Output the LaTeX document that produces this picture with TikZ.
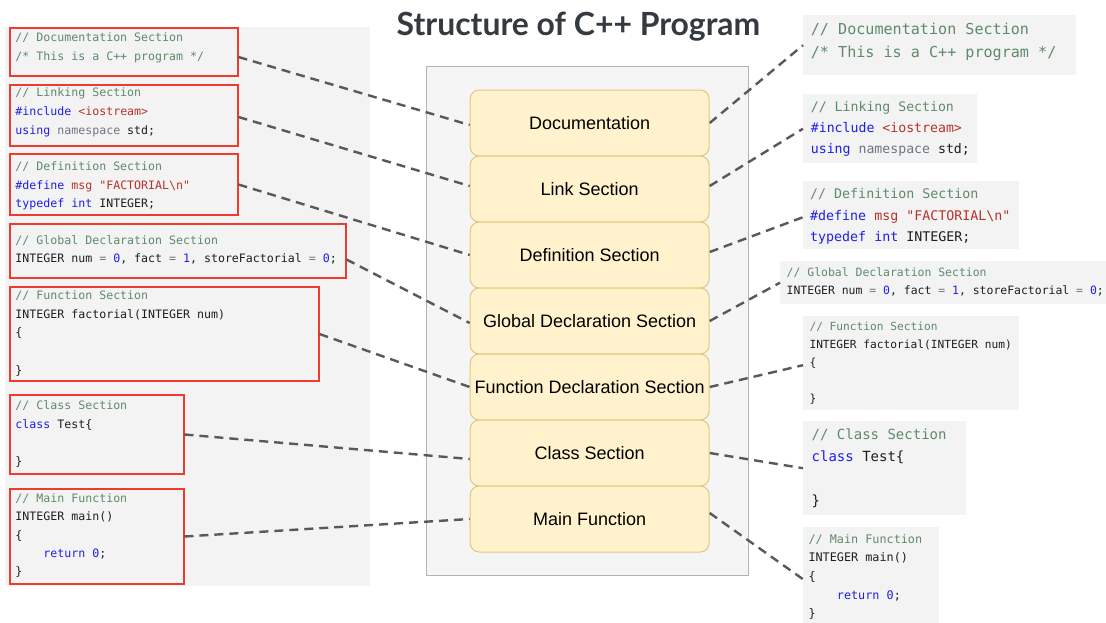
\documentclass[tikz,border=0pt]{standalone}
\usepackage{fontspec}
\setmainfont{Liberation Sans}
\newfontfamily\codefont{DejaVu Sans Mono}
\newfontfamily\titlefont{Lato}
\usetikzlibrary{calc}

\definecolor{panelgray}{HTML}{F3F3F3}
\definecolor{framered}{HTML}{EE3B2F}
\definecolor{stackfill}{HTML}{F5F5F5}
\definecolor{stackline}{HTML}{B3B3B3}
\definecolor{secfill}{HTML}{FFF2CC}
\definecolor{secline}{HTML}{E2C87C}
\definecolor{linkgray}{HTML}{595959}
\definecolor{comgreen}{HTML}{5F8A6B}
\definecolor{kwblue}{HTML}{1F1FE6}
\definecolor{strred}{HTML}{B8322A}
\definecolor{nsgray}{HTML}{6E7681}
\definecolor{codeblack}{HTML}{1E1E1E}
\definecolor{titlegray}{HTML}{343A40}

% syntax colouring helpers
\newcommand\ccom[1]{\textcolor{comgreen}{#1}}
\newcommand\ckw[1]{\textcolor{kwblue}{#1}}
\newcommand\cstr[1]{\textcolor{strred}{#1}}
\newcommand\cns[1]{\textcolor{nsgray}{#1}}
\newcommand\cop[1]{\textcolor{nsgray}{#1}}
\newcommand\cnum[1]{\textcolor{kwblue}{#1}}
\newcommand\codesize[2]{\codefont\fontsize{#1}{#2}\selectfont\frenchspacing}

% code blocks are placed by the baseline of their last line
\tikzset{
  codeframe/.style={draw=framered, line width=2pt, fill=panelgray, inner sep=0pt, anchor=north west},
  codepanel/.style={fill=panelgray, draw=none, inner sep=0pt, anchor=north west},
  codetext/.style={anchor=base west, inner sep=0pt, align=left, text=codeblack},
  sectionbox/.style={draw=secline, fill=secfill, line width=1pt, rounded corners=9pt,
    minimum width=239pt, minimum height=66pt, inner sep=0pt,
    font=\fontsize{18}{21}\selectfont, text=black},
  linkline/.style={draw=linkgray, line width=2.4pt, dash pattern=on 9pt off 6pt},
}

\begin{document}
\begin{tikzpicture}[x=1pt, y=-1pt]
\useasboundingbox[fill=white] (0,0) rectangle (1106,622);

% title
\node[anchor=base, inner sep=0pt, text=titlegray, font=\titlefont\bfseries\fontsize{31.9}{36}\selectfont] (title) at (578.5,35) {Structure of C++ Program};

% left panel with framed code snippets
\fill[panelgray] (5,27) rectangle (370,586);

\node[codeframe, minimum width=228pt, minimum height=48pt] (lb1) at (8.5,27) {};
\node[codeframe, minimum width=228pt, minimum height=61pt] (lb2) at (8.5,84) {};
\node[codeframe, minimum width=228pt, minimum height=61pt] (lb3) at (8.5,153) {};
\node[codeframe, minimum width=336pt, minimum height=54pt] (lb4) at (8.5,223) {};
\node[codeframe, minimum width=309pt, minimum height=94pt] (lb5) at (8.5,286) {};
\node[codeframe, minimum width=174pt, minimum height=79pt] (lb6) at (8.5,394) {};
\node[codeframe, minimum width=174pt, minimum height=95pt] (lb7) at (8.5,488) {};

\node[codetext, font=\codesize{11.6}{18.5}] (lt1) at (15.3,60)
  {\ccom{// Documentation Section}\\ \ccom{/* This is a C++ program */}};
\node[codetext, font=\codesize{11.6}{18.7}] (lt2) at (15.3,134.3)
  {\ccom{// Linking Section}\\ \ckw{\#include} \cstr{<iostream>}\\ \ckw{using} \cns{namespace} std;};
\node[codetext, font=\codesize{11.6}{18.3}] (lt3) at (15.3,207.5)
  {\ccom{// Definition Section}\\ \ckw{\#define} \cstr{msg} \cstr{\textquotedbl FACTORIAL\textbackslash n\textquotedbl}\\ \ckw{typedef} \ckw{int} INTEGER;};
\node[codetext, font=\codesize{11.6}{18.3}] (lt4) at (15.3,262.5)
  {\ccom{// Global Declaration Section}\\ INTEGER num \cop{=} \cnum{0}, fact \cop{=} \cnum{1}, storeFactorial \cop{=} \cnum{0};};
\node[codetext, font=\codesize{11.6}{18.7}] (lt5) at (15.3,374.3)
  {\ccom{// Function Section}\\ INTEGER factorial(INTEGER num)\\ \{\\ \mbox{}\\ \}};
\node[codetext, font=\codesize{11.6}{18.6}] (lt6) at (15.3,465.7)
  {\ccom{// Class Section}\\ \ckw{class} Test\{\\ \mbox{}\\ \}};
\node[codetext, font=\codesize{11.6}{18.35}] (lt7) at (15.3,575.9)
  {\ccom{// Main Function}\\ INTEGER main()\\ \{\\ \phantom{xxxx}\ckw{return} \cnum{0};\\ \}};

% central stack of program sections
\node[draw=stackline, fill=stackfill, line width=1.2pt, minimum width=322pt, minimum height=509pt, inner sep=0pt, anchor=north west] (stack) at (426,66) {};

\node[sectionbox] (doc)   at (589.7,123) {Documentation};
\node[sectionbox] (link)  at (589.7,189) {Link Section};
\node[sectionbox] (defn)  at (589.7,255) {Definition Section};
\node[sectionbox] (glob)  at (589.7,321) {Global Declaration Section};
\node[sectionbox] (func)  at (589.7,387) {Function Declaration Section};
\node[sectionbox] (cls)   at (589.7,453) {Class Section};
\node[sectionbox] (mainf) at (589.7,519) {Main Function};

% right column of plain code snippets
\node[codepanel, minimum width=273pt, minimum height=60pt] (rb1) at (803,15) {};
\node[codepanel, minimum width=174pt, minimum height=69pt] (rb2) at (803,94) {};
\node[codepanel, minimum width=216pt, minimum height=68pt] (rb3) at (803,181) {};
\node[codepanel, minimum width=326pt, minimum height=43pt] (rb4) at (780,261) {};
\node[codepanel, minimum width=216pt, minimum height=94pt] (rb5) at (803,316) {};
\node[codepanel, minimum width=163pt, minimum height=94pt] (rb6) at (803,421) {};
\node[codepanel, minimum width=136pt, minimum height=100pt] (rb7) at (803,527) {};

\node[codetext, font=\codesize{15.1}{23}] (rt1) at (810.7,57.7)
  {\ccom{// Documentation Section}\\ \ccom{/* This is a C++ program */}};
\node[codetext, font=\codesize{13.2}{20.8}] (rt2) at (810.7,153)
  {\ccom{// Linking Section}\\ \ckw{\#include} \cstr{<iostream>}\\ \ckw{using} \cns{namespace} std;};
\node[codetext, font=\codesize{13.3}{21.3}] (rt3) at (810,241.4)
  {\ccom{// Definition Section}\\ \ckw{\#define} \cstr{msg} \cstr{\textquotedbl FACTORIAL\textbackslash n\textquotedbl}\\ \ckw{typedef} \ckw{int} INTEGER;};
\node[codetext, font=\codesize{11.45}{17.7}] (rt4) at (786.5,294.1)
  {\ccom{// Global Declaration Section}\\ INTEGER num \cop{=} \cnum{0}, fact \cop{=} \cnum{1}, storeFactorial \cop{=} \cnum{0};};
\node[codetext, font=\codesize{11.2}{18.1}] (rt5) at (809.3,402.7)
  {\ccom{// Function Section}\\ INTEGER factorial(INTEGER num)\\ \{\\ \mbox{}\\ \}};
\node[codetext, font=\codesize{14}{22.2}] (rt6) at (811.5,505.6)
  {\ccom{// Class Section}\\ \ckw{class} Test\{\\ \mbox{}\\ \}};
\node[codetext, font=\codesize{11.8}{18.7}] (rt7) at (808.3,617.8)
  {\ccom{// Main Function}\\ INTEGER main()\\ \{\\ \phantom{xxxx}\ckw{return} \cnum{0};\\ \}};

% dashed connectors: left snippets to sections
\draw[linkline] ([yshift=-5pt]lb1.east) -- ([yshift=-2pt]doc.west);
\draw[linkline] ([yshift=-1.5pt]lb2.east) -- ([yshift=3pt]link.west);
\draw[linkline] (lb3.east) -- (defn.west);
\draw[linkline] ([yshift=-8.5pt]lb4.east) -- ([yshift=-2pt]glob.west);
\draw[linkline] (lb5.east) -- (func.west);
\draw[linkline] (lb6.east) -- ([yshift=-6pt]cls.west);
\draw[linkline] (lb7.east) -- (mainf.west);

% dashed connectors: sections to right snippets
\draw[linkline] (doc.east) -- (rb1.west);
\draw[linkline] ([yshift=3pt]link.east) -- (rb2.west);
\draw[linkline] ([yshift=3pt]defn.east) -- ([yshift=-2pt]rb3.west);
\draw[linkline] (glob.east) -- (rb4.west);
\draw[linkline] (func.east) -- ([yshift=-2pt]rb5.west);
\draw[linkline] (cls.east) -- (rb6.west);
\draw[linkline] ([yshift=6pt]mainf.east) -- ([yshift=-2pt]rb7.west);
\end{tikzpicture}
\end{document}
